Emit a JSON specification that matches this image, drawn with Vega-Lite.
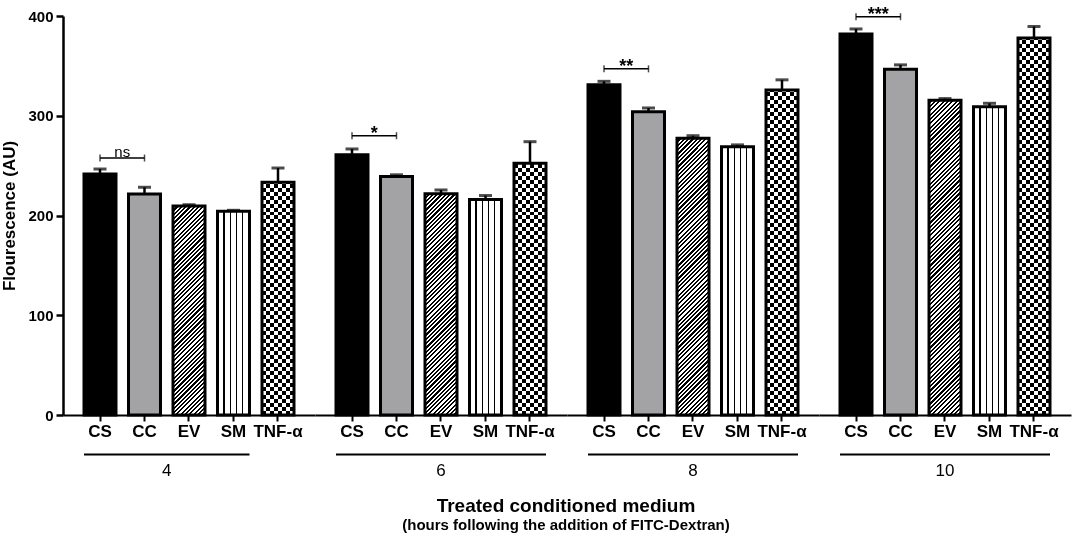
{
  "$schema": "https://vega.github.io/schema/vega-lite/v6.json",
  "padding": {"left": 0, "top": 5, "right": 2, "bottom": 2},
  "bounds": "flush",
  "spacing": 0,
  "config": {
    "font": "Liberation Sans",
    "view": {"stroke": null},
    "title": {"color": "#000", "subtitleColor": "#000"}
  },
  "title": {
    "text": "Treated conditioned medium",
    "subtitle": "(hours following the addition of FITC-Dextran)",
    "orient": "bottom",
    "anchor": "middle",
    "frame": "bounds",
    "dx": 30,
    "fontSize": 19,
    "fontWeight": "bold",
    "subtitleFontSize": 15,
    "subtitleFontWeight": "bold",
    "subtitlePadding": 2,
    "offset": 18
  },
  "data": {
    "values": [
      {"kind": "bar", "g": "4", "cat": "CS", "mean": 241.6, "hi": 246.6},
      {"kind": "bar", "g": "4", "cat": "CC", "mean": 221.6, "hi": 228.3},
      {"kind": "bar", "g": "4", "cat": "EV", "mean": 209.5, "hi": 210.8},
      {"kind": "bar", "g": "4", "cat": "SM", "mean": 204.2, "hi": 205.2},
      {"kind": "bar", "g": "4", "cat": "TNF-α", "mean": 233.3, "hi": 247.6},
      {"kind": "bar", "g": "6", "cat": "CS", "mean": 261, "hi": 266.7},
      {"kind": "bar", "g": "6", "cat": "CC", "mean": 239, "hi": 240.8},
      {"kind": "bar", "g": "6", "cat": "EV", "mean": 221.8, "hi": 225.6},
      {"kind": "bar", "g": "6", "cat": "SM", "mean": 216, "hi": 220},
      {"kind": "bar", "g": "6", "cat": "TNF-α", "mean": 252.3, "hi": 274},
      {"kind": "bar", "g": "8", "cat": "CS", "mean": 331, "hi": 334.5},
      {"kind": "bar", "g": "8", "cat": "CC", "mean": 304, "hi": 307.8},
      {"kind": "bar", "g": "8", "cat": "EV", "mean": 277.4, "hi": 280},
      {"kind": "bar", "g": "8", "cat": "SM", "mean": 269, "hi": 270.8},
      {"kind": "bar", "g": "8", "cat": "TNF-α", "mean": 325.8, "hi": 336},
      {"kind": "bar", "g": "10", "cat": "CS", "mean": 382, "hi": 387},
      {"kind": "bar", "g": "10", "cat": "CC", "mean": 346.6, "hi": 351},
      {"kind": "bar", "g": "10", "cat": "EV", "mean": 315.5, "hi": 317.2},
      {"kind": "bar", "g": "10", "cat": "SM", "mean": 309, "hi": 312.5},
      {"kind": "bar", "g": "10", "cat": "TNF-α", "mean": 378, "hi": 389.5},
      {"kind": "sig", "g": "4", "y": 257.6, "label": "ns", "a": "CS", "b": "CC"},
      {"kind": "sig", "g": "6", "y": 280, "label": "*", "a": "CS", "b": "CC"},
      {"kind": "sig", "g": "8", "y": 347, "label": "**", "a": "CS", "b": "CC"},
      {"kind": "sig", "g": "10", "y": 399.3, "label": "***", "a": "CS", "b": "CC"},
      {"kind": "grp", "g": "4", "from": "CS", "to": "SM"},
      {"kind": "grp", "g": "6", "from": "CS", "to": "TNF-α"},
      {"kind": "grp", "g": "8", "from": "CS", "to": "TNF-α"},
      {"kind": "grp", "g": "10", "from": "CS", "to": "TNF-α"}
    ]
  },
  "facet": {
    "column": {
      "field": "g",
      "type": "ordinal",
      "sort": ["4", "6", "8", "10"],
      "header": {"title": null, "labels": false}
    }
  },
  "spec": {
    "width": 252,
    "height": 399,
    "layer": [
      {
        "transform": [{"filter": "datum.kind == 'bar' && datum.cat == 'EV'"}],
        "mark": {
          "type": "bar",
          "fill": {
            "gradient": "linear", "x1": 0, "y1": 0, "x2": 0.0861, "y2": 1.0733,
            "stops": [
              {"offset":0,"color":"#000"},{"offset":0.005,"color":"#000"},{"offset":0.005,"color":"#fff"},{"offset":0.01,"color":"#fff"},
              {"offset":0.01,"color":"#000"},{"offset":0.015,"color":"#000"},{"offset":0.015,"color":"#fff"},{"offset":0.02,"color":"#fff"},
              {"offset":0.02,"color":"#000"},{"offset":0.025,"color":"#000"},{"offset":0.025,"color":"#fff"},{"offset":0.03,"color":"#fff"},
              {"offset":0.03,"color":"#000"},{"offset":0.035,"color":"#000"},{"offset":0.035,"color":"#fff"},{"offset":0.04,"color":"#fff"},
              {"offset":0.04,"color":"#000"},{"offset":0.045,"color":"#000"},{"offset":0.045,"color":"#fff"},{"offset":0.05,"color":"#fff"},
              {"offset":0.05,"color":"#000"},{"offset":0.055,"color":"#000"},{"offset":0.055,"color":"#fff"},{"offset":0.06,"color":"#fff"},
              {"offset":0.06,"color":"#000"},{"offset":0.065,"color":"#000"},{"offset":0.065,"color":"#fff"},{"offset":0.07,"color":"#fff"},
              {"offset":0.07,"color":"#000"},{"offset":0.075,"color":"#000"},{"offset":0.075,"color":"#fff"},{"offset":0.08,"color":"#fff"},
              {"offset":0.08,"color":"#000"},{"offset":0.085,"color":"#000"},{"offset":0.085,"color":"#fff"},{"offset":0.09,"color":"#fff"},
              {"offset":0.09,"color":"#000"},{"offset":0.095,"color":"#000"},{"offset":0.095,"color":"#fff"},{"offset":0.1,"color":"#fff"},
              {"offset":0.1,"color":"#000"},{"offset":0.105,"color":"#000"},{"offset":0.105,"color":"#fff"},{"offset":0.11,"color":"#fff"},
              {"offset":0.11,"color":"#000"},{"offset":0.115,"color":"#000"},{"offset":0.115,"color":"#fff"},{"offset":0.12,"color":"#fff"},
              {"offset":0.12,"color":"#000"},{"offset":0.125,"color":"#000"},{"offset":0.125,"color":"#fff"},{"offset":0.13,"color":"#fff"},
              {"offset":0.13,"color":"#000"},{"offset":0.135,"color":"#000"},{"offset":0.135,"color":"#fff"},{"offset":0.14,"color":"#fff"},
              {"offset":0.14,"color":"#000"},{"offset":0.145,"color":"#000"},{"offset":0.145,"color":"#fff"},{"offset":0.15,"color":"#fff"},
              {"offset":0.15,"color":"#000"},{"offset":0.155,"color":"#000"},{"offset":0.155,"color":"#fff"},{"offset":0.16,"color":"#fff"},
              {"offset":0.16,"color":"#000"},{"offset":0.165,"color":"#000"},{"offset":0.165,"color":"#fff"},{"offset":0.17,"color":"#fff"},
              {"offset":0.17,"color":"#000"},{"offset":0.175,"color":"#000"},{"offset":0.175,"color":"#fff"},{"offset":0.18,"color":"#fff"},
              {"offset":0.18,"color":"#000"},{"offset":0.185,"color":"#000"},{"offset":0.185,"color":"#fff"},{"offset":0.19,"color":"#fff"},
              {"offset":0.19,"color":"#000"},{"offset":0.195,"color":"#000"},{"offset":0.195,"color":"#fff"},{"offset":0.2,"color":"#fff"},
              {"offset":0.2,"color":"#000"},{"offset":0.205,"color":"#000"},{"offset":0.205,"color":"#fff"},{"offset":0.21,"color":"#fff"},
              {"offset":0.21,"color":"#000"},{"offset":0.215,"color":"#000"},{"offset":0.215,"color":"#fff"},{"offset":0.22,"color":"#fff"},
              {"offset":0.22,"color":"#000"},{"offset":0.225,"color":"#000"},{"offset":0.225,"color":"#fff"},{"offset":0.23,"color":"#fff"},
              {"offset":0.23,"color":"#000"},{"offset":0.235,"color":"#000"},{"offset":0.235,"color":"#fff"},{"offset":0.24,"color":"#fff"},
              {"offset":0.24,"color":"#000"},{"offset":0.245,"color":"#000"},{"offset":0.245,"color":"#fff"},{"offset":0.25,"color":"#fff"},
              {"offset":0.25,"color":"#000"},{"offset":0.255,"color":"#000"},{"offset":0.255,"color":"#fff"},{"offset":0.26,"color":"#fff"},
              {"offset":0.26,"color":"#000"},{"offset":0.265,"color":"#000"},{"offset":0.265,"color":"#fff"},{"offset":0.27,"color":"#fff"},
              {"offset":0.27,"color":"#000"},{"offset":0.275,"color":"#000"},{"offset":0.275,"color":"#fff"},{"offset":0.28,"color":"#fff"},
              {"offset":0.28,"color":"#000"},{"offset":0.285,"color":"#000"},{"offset":0.285,"color":"#fff"},{"offset":0.29,"color":"#fff"},
              {"offset":0.29,"color":"#000"},{"offset":0.295,"color":"#000"},{"offset":0.295,"color":"#fff"},{"offset":0.3,"color":"#fff"},
              {"offset":0.3,"color":"#000"},{"offset":0.305,"color":"#000"},{"offset":0.305,"color":"#fff"},{"offset":0.31,"color":"#fff"},
              {"offset":0.31,"color":"#000"},{"offset":0.315,"color":"#000"},{"offset":0.315,"color":"#fff"},{"offset":0.32,"color":"#fff"},
              {"offset":0.32,"color":"#000"},{"offset":0.325,"color":"#000"},{"offset":0.325,"color":"#fff"},{"offset":0.33,"color":"#fff"},
              {"offset":0.33,"color":"#000"},{"offset":0.335,"color":"#000"},{"offset":0.335,"color":"#fff"},{"offset":0.34,"color":"#fff"},
              {"offset":0.34,"color":"#000"},{"offset":0.345,"color":"#000"},{"offset":0.345,"color":"#fff"},{"offset":0.35,"color":"#fff"},
              {"offset":0.35,"color":"#000"},{"offset":0.355,"color":"#000"},{"offset":0.355,"color":"#fff"},{"offset":0.36,"color":"#fff"},
              {"offset":0.36,"color":"#000"},{"offset":0.365,"color":"#000"},{"offset":0.365,"color":"#fff"},{"offset":0.37,"color":"#fff"},
              {"offset":0.37,"color":"#000"},{"offset":0.375,"color":"#000"},{"offset":0.375,"color":"#fff"},{"offset":0.38,"color":"#fff"},
              {"offset":0.38,"color":"#000"},{"offset":0.385,"color":"#000"},{"offset":0.385,"color":"#fff"},{"offset":0.39,"color":"#fff"},
              {"offset":0.39,"color":"#000"},{"offset":0.395,"color":"#000"},{"offset":0.395,"color":"#fff"},{"offset":0.4,"color":"#fff"},
              {"offset":0.4,"color":"#000"},{"offset":0.405,"color":"#000"},{"offset":0.405,"color":"#fff"},{"offset":0.41,"color":"#fff"},
              {"offset":0.41,"color":"#000"},{"offset":0.415,"color":"#000"},{"offset":0.415,"color":"#fff"},{"offset":0.42,"color":"#fff"},
              {"offset":0.42,"color":"#000"},{"offset":0.425,"color":"#000"},{"offset":0.425,"color":"#fff"},{"offset":0.43,"color":"#fff"},
              {"offset":0.43,"color":"#000"},{"offset":0.435,"color":"#000"},{"offset":0.435,"color":"#fff"},{"offset":0.44,"color":"#fff"},
              {"offset":0.44,"color":"#000"},{"offset":0.445,"color":"#000"},{"offset":0.445,"color":"#fff"},{"offset":0.45,"color":"#fff"},
              {"offset":0.45,"color":"#000"},{"offset":0.455,"color":"#000"},{"offset":0.455,"color":"#fff"},{"offset":0.46,"color":"#fff"},
              {"offset":0.46,"color":"#000"},{"offset":0.465,"color":"#000"},{"offset":0.465,"color":"#fff"},{"offset":0.47,"color":"#fff"},
              {"offset":0.47,"color":"#000"},{"offset":0.475,"color":"#000"},{"offset":0.475,"color":"#fff"},{"offset":0.48,"color":"#fff"},
              {"offset":0.48,"color":"#000"},{"offset":0.485,"color":"#000"},{"offset":0.485,"color":"#fff"},{"offset":0.49,"color":"#fff"},
              {"offset":0.49,"color":"#000"},{"offset":0.495,"color":"#000"},{"offset":0.495,"color":"#fff"},{"offset":0.5,"color":"#fff"},
              {"offset":0.5,"color":"#000"},{"offset":0.505,"color":"#000"},{"offset":0.505,"color":"#fff"},{"offset":0.51,"color":"#fff"},
              {"offset":0.51,"color":"#000"},{"offset":0.515,"color":"#000"},{"offset":0.515,"color":"#fff"},{"offset":0.52,"color":"#fff"},
              {"offset":0.52,"color":"#000"},{"offset":0.525,"color":"#000"},{"offset":0.525,"color":"#fff"},{"offset":0.53,"color":"#fff"},
              {"offset":0.53,"color":"#000"},{"offset":0.535,"color":"#000"},{"offset":0.535,"color":"#fff"},{"offset":0.54,"color":"#fff"},
              {"offset":0.54,"color":"#000"},{"offset":0.545,"color":"#000"},{"offset":0.545,"color":"#fff"},{"offset":0.55,"color":"#fff"},
              {"offset":0.55,"color":"#000"},{"offset":0.555,"color":"#000"},{"offset":0.555,"color":"#fff"},{"offset":0.56,"color":"#fff"},
              {"offset":0.56,"color":"#000"},{"offset":0.565,"color":"#000"},{"offset":0.565,"color":"#fff"},{"offset":0.57,"color":"#fff"},
              {"offset":0.57,"color":"#000"},{"offset":0.575,"color":"#000"},{"offset":0.575,"color":"#fff"},{"offset":0.58,"color":"#fff"},
              {"offset":0.58,"color":"#000"},{"offset":0.585,"color":"#000"},{"offset":0.585,"color":"#fff"},{"offset":0.59,"color":"#fff"},
              {"offset":0.59,"color":"#000"},{"offset":0.595,"color":"#000"},{"offset":0.595,"color":"#fff"},{"offset":0.6,"color":"#fff"},
              {"offset":0.6,"color":"#000"},{"offset":0.605,"color":"#000"},{"offset":0.605,"color":"#fff"},{"offset":0.61,"color":"#fff"},
              {"offset":0.61,"color":"#000"},{"offset":0.615,"color":"#000"},{"offset":0.615,"color":"#fff"},{"offset":0.62,"color":"#fff"},
              {"offset":0.62,"color":"#000"},{"offset":0.625,"color":"#000"},{"offset":0.625,"color":"#fff"},{"offset":0.63,"color":"#fff"},
              {"offset":0.63,"color":"#000"},{"offset":0.635,"color":"#000"},{"offset":0.635,"color":"#fff"},{"offset":0.64,"color":"#fff"},
              {"offset":0.64,"color":"#000"},{"offset":0.645,"color":"#000"},{"offset":0.645,"color":"#fff"},{"offset":0.65,"color":"#fff"},
              {"offset":0.65,"color":"#000"},{"offset":0.655,"color":"#000"},{"offset":0.655,"color":"#fff"},{"offset":0.66,"color":"#fff"},
              {"offset":0.66,"color":"#000"},{"offset":0.665,"color":"#000"},{"offset":0.665,"color":"#fff"},{"offset":0.67,"color":"#fff"},
              {"offset":0.67,"color":"#000"},{"offset":0.675,"color":"#000"},{"offset":0.675,"color":"#fff"},{"offset":0.68,"color":"#fff"},
              {"offset":0.68,"color":"#000"},{"offset":0.685,"color":"#000"},{"offset":0.685,"color":"#fff"},{"offset":0.69,"color":"#fff"},
              {"offset":0.69,"color":"#000"},{"offset":0.695,"color":"#000"},{"offset":0.695,"color":"#fff"},{"offset":0.7,"color":"#fff"},
              {"offset":0.7,"color":"#000"},{"offset":0.705,"color":"#000"},{"offset":0.705,"color":"#fff"},{"offset":0.71,"color":"#fff"},
              {"offset":0.71,"color":"#000"},{"offset":0.715,"color":"#000"},{"offset":0.715,"color":"#fff"},{"offset":0.72,"color":"#fff"},
              {"offset":0.72,"color":"#000"},{"offset":0.725,"color":"#000"},{"offset":0.725,"color":"#fff"},{"offset":0.73,"color":"#fff"},
              {"offset":0.73,"color":"#000"},{"offset":0.735,"color":"#000"},{"offset":0.735,"color":"#fff"},{"offset":0.74,"color":"#fff"},
              {"offset":0.74,"color":"#000"},{"offset":0.745,"color":"#000"},{"offset":0.745,"color":"#fff"},{"offset":0.75,"color":"#fff"},
              {"offset":0.75,"color":"#000"},{"offset":0.755,"color":"#000"},{"offset":0.755,"color":"#fff"},{"offset":0.76,"color":"#fff"},
              {"offset":0.76,"color":"#000"},{"offset":0.765,"color":"#000"},{"offset":0.765,"color":"#fff"},{"offset":0.77,"color":"#fff"},
              {"offset":0.77,"color":"#000"},{"offset":0.775,"color":"#000"},{"offset":0.775,"color":"#fff"},{"offset":0.78,"color":"#fff"},
              {"offset":0.78,"color":"#000"},{"offset":0.785,"color":"#000"},{"offset":0.785,"color":"#fff"},{"offset":0.79,"color":"#fff"},
              {"offset":0.79,"color":"#000"},{"offset":0.795,"color":"#000"},{"offset":0.795,"color":"#fff"},{"offset":0.8,"color":"#fff"},
              {"offset":0.8,"color":"#000"},{"offset":0.805,"color":"#000"},{"offset":0.805,"color":"#fff"},{"offset":0.81,"color":"#fff"},
              {"offset":0.81,"color":"#000"},{"offset":0.815,"color":"#000"},{"offset":0.815,"color":"#fff"},{"offset":0.82,"color":"#fff"},
              {"offset":0.82,"color":"#000"},{"offset":0.825,"color":"#000"},{"offset":0.825,"color":"#fff"},{"offset":0.83,"color":"#fff"},
              {"offset":0.83,"color":"#000"},{"offset":0.835,"color":"#000"},{"offset":0.835,"color":"#fff"},{"offset":0.84,"color":"#fff"},
              {"offset":0.84,"color":"#000"},{"offset":0.845,"color":"#000"},{"offset":0.845,"color":"#fff"},{"offset":0.85,"color":"#fff"},
              {"offset":0.85,"color":"#000"},{"offset":0.855,"color":"#000"},{"offset":0.855,"color":"#fff"},{"offset":0.86,"color":"#fff"},
              {"offset":0.86,"color":"#000"},{"offset":0.865,"color":"#000"},{"offset":0.865,"color":"#fff"},{"offset":0.87,"color":"#fff"},
              {"offset":0.87,"color":"#000"},{"offset":0.875,"color":"#000"},{"offset":0.875,"color":"#fff"},{"offset":0.88,"color":"#fff"},
              {"offset":0.88,"color":"#000"},{"offset":0.885,"color":"#000"},{"offset":0.885,"color":"#fff"},{"offset":0.89,"color":"#fff"},
              {"offset":0.89,"color":"#000"},{"offset":0.895,"color":"#000"},{"offset":0.895,"color":"#fff"},{"offset":0.9,"color":"#fff"},
              {"offset":0.9,"color":"#000"},{"offset":0.905,"color":"#000"},{"offset":0.905,"color":"#fff"},{"offset":0.91,"color":"#fff"},
              {"offset":0.91,"color":"#000"},{"offset":0.915,"color":"#000"},{"offset":0.915,"color":"#fff"},{"offset":0.92,"color":"#fff"},
              {"offset":0.92,"color":"#000"},{"offset":0.925,"color":"#000"},{"offset":0.925,"color":"#fff"},{"offset":0.93,"color":"#fff"},
              {"offset":0.93,"color":"#000"},{"offset":0.935,"color":"#000"},{"offset":0.935,"color":"#fff"},{"offset":0.94,"color":"#fff"},
              {"offset":0.94,"color":"#000"},{"offset":0.945,"color":"#000"},{"offset":0.945,"color":"#fff"},{"offset":0.95,"color":"#fff"},
              {"offset":0.95,"color":"#000"},{"offset":0.955,"color":"#000"},{"offset":0.955,"color":"#fff"},{"offset":0.96,"color":"#fff"},
              {"offset":0.96,"color":"#000"},{"offset":0.965,"color":"#000"},{"offset":0.965,"color":"#fff"},{"offset":0.97,"color":"#fff"},
              {"offset":0.97,"color":"#000"},{"offset":0.975,"color":"#000"},{"offset":0.975,"color":"#fff"},{"offset":0.98,"color":"#fff"},
              {"offset":0.98,"color":"#000"},{"offset":0.985,"color":"#000"},{"offset":0.985,"color":"#fff"},{"offset":0.99,"color":"#fff"},
              {"offset":0.99,"color":"#000"},{"offset":0.995,"color":"#000"},{"offset":0.995,"color":"#fff"},{"offset":1,"color":"#fff"}
            ]
          }
        },
        "encoding": {
          "x": {
            "field": "cat",
            "type": "nominal",
            "scale": {"domain": ["CS", "CC", "EV", "SM", "TNF-α"], "paddingInner": 0.281, "paddingOuter": 0.472},
            "axis": {
              "title": null,
              "labelAngle": 0,
              "labelFontSize": 17,
              "labelFontWeight": "bold",
              "labelColor": "#000",
              "labelPadding": 2,
              "tickSize": 6,
              "tickWidth": 2,
              "tickColor": "#000",
              "domainWidth": 2,
              "domainColor": "#000"
            }
          },
          "y": {
            "datum": 0,
            "type": "quantitative",
            "scale": {"domain": [0, 400], "nice": false},
            "axis": {
              "title": "Flourescence (AU)",
              "titleFontSize": 17,
              "titleFontWeight": "bold",
              "titleColor": "#000",
              "titlePadding": 9,
              "values": [0, 100, 200, 300, 400],
              "labelFontSize": 15,
              "labelFontWeight": "bold",
              "labelColor": "#000",
              "labelPadding": 3,
              "tickSize": 7,
              "tickWidth": 2.5,
              "tickColor": "#000",
              "domainWidth": 2.5,
              "domainColor": "#000",
              "grid": false
            }
          },
          "y2": {"datum": 400}
        }
      },
      {
        "transform": [{"filter": "datum.kind == 'bar' && datum.cat == 'TNF-α'"}],
        "mark": {
          "type": "bar",
          "fill": {
            "gradient": "linear", "x1": 0, "y1": 0, "x2": 1, "y2": 0,
            "stops": [
              {"offset":0,"color":"#000"},{"offset":0.125,"color":"#000"},{"offset":0.125,"color":"#fff"},{"offset":0.25,"color":"#fff"},
              {"offset":0.25,"color":"#000"},{"offset":0.375,"color":"#000"},{"offset":0.375,"color":"#fff"},{"offset":0.5,"color":"#fff"},
              {"offset":0.5,"color":"#000"},{"offset":0.625,"color":"#000"},{"offset":0.625,"color":"#fff"},{"offset":0.75,"color":"#fff"},
              {"offset":0.75,"color":"#000"},{"offset":0.875,"color":"#000"},{"offset":0.875,"color":"#fff"},{"offset":1,"color":"#fff"}
            ]
          }
        },
        "encoding": {
          "x": {"field": "cat", "type": "nominal"},
          "y": {"datum": 0, "type": "quantitative"},
          "y2": {"datum": 400}
        }
      },
      {
        "transform": [{"filter": "datum.kind == 'bar' && datum.cat == 'TNF-α'"}],
        "mark": {
          "type": "bar",
          "blend": "difference",
          "fill": {
            "gradient": "linear", "x1": 0, "y1": 0, "x2": 0, "y2": 1,
            "stops": [
              {"offset":0,"color":"#fff"},{"offset":0.01,"color":"#fff"},{"offset":0.01,"color":"#000"},{"offset":0.02,"color":"#000"},
              {"offset":0.02,"color":"#fff"},{"offset":0.03,"color":"#fff"},{"offset":0.03,"color":"#000"},{"offset":0.04,"color":"#000"},
              {"offset":0.04,"color":"#fff"},{"offset":0.05,"color":"#fff"},{"offset":0.05,"color":"#000"},{"offset":0.06,"color":"#000"},
              {"offset":0.06,"color":"#fff"},{"offset":0.07,"color":"#fff"},{"offset":0.07,"color":"#000"},{"offset":0.08,"color":"#000"},
              {"offset":0.08,"color":"#fff"},{"offset":0.09,"color":"#fff"},{"offset":0.09,"color":"#000"},{"offset":0.1,"color":"#000"},
              {"offset":0.1,"color":"#fff"},{"offset":0.11,"color":"#fff"},{"offset":0.11,"color":"#000"},{"offset":0.12,"color":"#000"},
              {"offset":0.12,"color":"#fff"},{"offset":0.13,"color":"#fff"},{"offset":0.13,"color":"#000"},{"offset":0.14,"color":"#000"},
              {"offset":0.14,"color":"#fff"},{"offset":0.15,"color":"#fff"},{"offset":0.15,"color":"#000"},{"offset":0.16,"color":"#000"},
              {"offset":0.16,"color":"#fff"},{"offset":0.17,"color":"#fff"},{"offset":0.17,"color":"#000"},{"offset":0.18,"color":"#000"},
              {"offset":0.18,"color":"#fff"},{"offset":0.19,"color":"#fff"},{"offset":0.19,"color":"#000"},{"offset":0.2,"color":"#000"},
              {"offset":0.2,"color":"#fff"},{"offset":0.21,"color":"#fff"},{"offset":0.21,"color":"#000"},{"offset":0.22,"color":"#000"},
              {"offset":0.22,"color":"#fff"},{"offset":0.23,"color":"#fff"},{"offset":0.23,"color":"#000"},{"offset":0.24,"color":"#000"},
              {"offset":0.24,"color":"#fff"},{"offset":0.25,"color":"#fff"},{"offset":0.25,"color":"#000"},{"offset":0.26,"color":"#000"},
              {"offset":0.26,"color":"#fff"},{"offset":0.27,"color":"#fff"},{"offset":0.27,"color":"#000"},{"offset":0.28,"color":"#000"},
              {"offset":0.28,"color":"#fff"},{"offset":0.29,"color":"#fff"},{"offset":0.29,"color":"#000"},{"offset":0.3,"color":"#000"},
              {"offset":0.3,"color":"#fff"},{"offset":0.31,"color":"#fff"},{"offset":0.31,"color":"#000"},{"offset":0.32,"color":"#000"},
              {"offset":0.32,"color":"#fff"},{"offset":0.33,"color":"#fff"},{"offset":0.33,"color":"#000"},{"offset":0.34,"color":"#000"},
              {"offset":0.34,"color":"#fff"},{"offset":0.35,"color":"#fff"},{"offset":0.35,"color":"#000"},{"offset":0.36,"color":"#000"},
              {"offset":0.36,"color":"#fff"},{"offset":0.37,"color":"#fff"},{"offset":0.37,"color":"#000"},{"offset":0.38,"color":"#000"},
              {"offset":0.38,"color":"#fff"},{"offset":0.39,"color":"#fff"},{"offset":0.39,"color":"#000"},{"offset":0.4,"color":"#000"},
              {"offset":0.4,"color":"#fff"},{"offset":0.41,"color":"#fff"},{"offset":0.41,"color":"#000"},{"offset":0.42,"color":"#000"},
              {"offset":0.42,"color":"#fff"},{"offset":0.43,"color":"#fff"},{"offset":0.43,"color":"#000"},{"offset":0.44,"color":"#000"},
              {"offset":0.44,"color":"#fff"},{"offset":0.45,"color":"#fff"},{"offset":0.45,"color":"#000"},{"offset":0.46,"color":"#000"},
              {"offset":0.46,"color":"#fff"},{"offset":0.47,"color":"#fff"},{"offset":0.47,"color":"#000"},{"offset":0.48,"color":"#000"},
              {"offset":0.48,"color":"#fff"},{"offset":0.49,"color":"#fff"},{"offset":0.49,"color":"#000"},{"offset":0.5,"color":"#000"},
              {"offset":0.5,"color":"#fff"},{"offset":0.51,"color":"#fff"},{"offset":0.51,"color":"#000"},{"offset":0.52,"color":"#000"},
              {"offset":0.52,"color":"#fff"},{"offset":0.53,"color":"#fff"},{"offset":0.53,"color":"#000"},{"offset":0.54,"color":"#000"},
              {"offset":0.54,"color":"#fff"},{"offset":0.55,"color":"#fff"},{"offset":0.55,"color":"#000"},{"offset":0.56,"color":"#000"},
              {"offset":0.56,"color":"#fff"},{"offset":0.57,"color":"#fff"},{"offset":0.57,"color":"#000"},{"offset":0.58,"color":"#000"},
              {"offset":0.58,"color":"#fff"},{"offset":0.59,"color":"#fff"},{"offset":0.59,"color":"#000"},{"offset":0.6,"color":"#000"},
              {"offset":0.6,"color":"#fff"},{"offset":0.61,"color":"#fff"},{"offset":0.61,"color":"#000"},{"offset":0.62,"color":"#000"},
              {"offset":0.62,"color":"#fff"},{"offset":0.63,"color":"#fff"},{"offset":0.63,"color":"#000"},{"offset":0.64,"color":"#000"},
              {"offset":0.64,"color":"#fff"},{"offset":0.65,"color":"#fff"},{"offset":0.65,"color":"#000"},{"offset":0.66,"color":"#000"},
              {"offset":0.66,"color":"#fff"},{"offset":0.67,"color":"#fff"},{"offset":0.67,"color":"#000"},{"offset":0.68,"color":"#000"},
              {"offset":0.68,"color":"#fff"},{"offset":0.69,"color":"#fff"},{"offset":0.69,"color":"#000"},{"offset":0.7,"color":"#000"},
              {"offset":0.7,"color":"#fff"},{"offset":0.71,"color":"#fff"},{"offset":0.71,"color":"#000"},{"offset":0.72,"color":"#000"},
              {"offset":0.72,"color":"#fff"},{"offset":0.73,"color":"#fff"},{"offset":0.73,"color":"#000"},{"offset":0.74,"color":"#000"},
              {"offset":0.74,"color":"#fff"},{"offset":0.75,"color":"#fff"},{"offset":0.75,"color":"#000"},{"offset":0.76,"color":"#000"},
              {"offset":0.76,"color":"#fff"},{"offset":0.77,"color":"#fff"},{"offset":0.77,"color":"#000"},{"offset":0.78,"color":"#000"},
              {"offset":0.78,"color":"#fff"},{"offset":0.79,"color":"#fff"},{"offset":0.79,"color":"#000"},{"offset":0.8,"color":"#000"},
              {"offset":0.8,"color":"#fff"},{"offset":0.81,"color":"#fff"},{"offset":0.81,"color":"#000"},{"offset":0.82,"color":"#000"},
              {"offset":0.82,"color":"#fff"},{"offset":0.83,"color":"#fff"},{"offset":0.83,"color":"#000"},{"offset":0.84,"color":"#000"},
              {"offset":0.84,"color":"#fff"},{"offset":0.85,"color":"#fff"},{"offset":0.85,"color":"#000"},{"offset":0.86,"color":"#000"},
              {"offset":0.86,"color":"#fff"},{"offset":0.87,"color":"#fff"},{"offset":0.87,"color":"#000"},{"offset":0.88,"color":"#000"},
              {"offset":0.88,"color":"#fff"},{"offset":0.89,"color":"#fff"},{"offset":0.89,"color":"#000"},{"offset":0.9,"color":"#000"},
              {"offset":0.9,"color":"#fff"},{"offset":0.91,"color":"#fff"},{"offset":0.91,"color":"#000"},{"offset":0.92,"color":"#000"},
              {"offset":0.92,"color":"#fff"},{"offset":0.93,"color":"#fff"},{"offset":0.93,"color":"#000"},{"offset":0.94,"color":"#000"},
              {"offset":0.94,"color":"#fff"},{"offset":0.95,"color":"#fff"},{"offset":0.95,"color":"#000"},{"offset":0.96,"color":"#000"},
              {"offset":0.96,"color":"#fff"},{"offset":0.97,"color":"#fff"},{"offset":0.97,"color":"#000"},{"offset":0.98,"color":"#000"},
              {"offset":0.98,"color":"#fff"},{"offset":0.99,"color":"#fff"},{"offset":0.99,"color":"#000"},{"offset":1,"color":"#000"}
            ]
          }
        },
        "encoding": {
          "x": {"field": "cat", "type": "nominal"},
          "y": {"datum": 0, "type": "quantitative"},
          "y2": {"datum": 400}
        }
      },
      {
        "transform": [{"filter": "datum.kind == 'bar' && (datum.cat == 'EV' || datum.cat == 'TNF-α')"}],
        "mark": {"type": "bar", "fill": "#fff", "width": {"band": 1.12}},
        "encoding": {
          "x": {"field": "cat", "type": "nominal"},
          "y": {"field": "mean", "type": "quantitative"},
          "y2": {"datum": 403}
        }
      },
      {
        "transform": [{"filter": "datum.kind == 'bar' && datum.cat == 'SM'"}],
        "mark": {
          "type": "bar",
          "fill": {
            "gradient": "linear", "x1": 0, "y1": 0, "x2": 1, "y2": 0,
            "stops": [
              {"offset":0,"color":"#fff"},{"offset":0.18,"color":"#fff"},{"offset":0.18,"color":"#000"},{"offset":0.235,"color":"#000"},
              {"offset":0.235,"color":"#fff"},{"offset":0.375,"color":"#fff"},{"offset":0.375,"color":"#000"},{"offset":0.43,"color":"#000"},
              {"offset":0.43,"color":"#fff"},{"offset":0.565,"color":"#fff"},{"offset":0.565,"color":"#000"},{"offset":0.62,"color":"#000"},
              {"offset":0.62,"color":"#fff"},{"offset":0.755,"color":"#fff"},{"offset":0.755,"color":"#000"},{"offset":0.81,"color":"#000"},
              {"offset":0.81,"color":"#fff"},{"offset":1,"color":"#fff"}
            ]
          }
        },
        "encoding": {
          "x": {"field": "cat", "type": "nominal"},
          "y": {"field": "mean", "type": "quantitative"}
        }
      },
      {
        "transform": [{"filter": "datum.kind == 'bar' && (datum.cat == 'CS' || datum.cat == 'CC')"}],
        "mark": {"type": "bar"},
        "encoding": {
          "x": {"field": "cat", "type": "nominal"},
          "y": {"field": "mean", "type": "quantitative"},
          "color": {
            "field": "cat",
            "type": "nominal",
            "scale": {"domain": ["CS", "CC"], "range": ["#000000", "#a3a3a6"]},
            "legend": null
          }
        }
      },
      {
        "transform": [{"filter": "datum.kind == 'bar'"}],
        "mark": {"type": "bar", "fill": "transparent", "stroke": "#000", "strokeWidth": 3},
        "encoding": {
          "x": {"field": "cat", "type": "nominal"},
          "y": {"field": "mean", "type": "quantitative"}
        }
      },
      {
        "transform": [{"filter": "datum.kind == 'bar'"}],
        "mark": {"type": "rule", "color": "#000", "strokeWidth": 2.5},
        "encoding": {
          "x": {"field": "cat", "type": "nominal"},
          "y": {"field": "mean", "type": "quantitative"},
          "y2": {"field": "hi"}
        }
      },
      {
        "transform": [{"filter": "datum.kind == 'bar'"}],
        "mark": {"type": "tick", "orient": "horizontal", "color": "#000", "size": 13, "thickness": 3},
        "encoding": {
          "x": {"field": "cat", "type": "nominal"},
          "y": {"field": "hi", "type": "quantitative"}
        }
      },
      {
        "transform": [{"filter": "datum.kind == 'sig'"}],
        "mark": {"type": "rule", "color": "#000", "strokeWidth": 1.5},
        "encoding": {
          "x": {"field": "a", "type": "nominal", "bandPosition": 0.5},
          "x2": {"field": "b", "bandPosition": 0.5},
          "y": {"field": "y", "type": "quantitative"}
        }
      },
      {
        "transform": [
          {"filter": "datum.kind == 'sig'"},
          {"fold": ["a", "b"], "as": ["end", "pos"]}
        ],
        "mark": {"type": "tick", "orient": "vertical", "color": "#000", "size": 7, "thickness": 1.5},
        "encoding": {
          "x": {"field": "pos", "type": "nominal"},
          "y": {"field": "y", "type": "quantitative"}
        }
      },
      {
        "transform": [{"filter": "datum.kind == 'sig' && datum.label == 'ns'"}],
        "mark": {"type": "text", "fontSize": 15, "color": "#000", "baseline": "alphabetic", "dy": -1},
        "encoding": {
          "x": {"field": "a", "type": "nominal", "bandPosition": 1.195},
          "y": {"field": "y", "type": "quantitative"},
          "text": {"field": "label"}
        }
      },
      {
        "transform": [{"filter": "datum.kind == 'sig' && datum.label != 'ns'"}],
        "mark": {"type": "text", "fontSize": 18, "fontWeight": "bold", "color": "#000", "baseline": "alphabetic", "dy": 3},
        "encoding": {
          "x": {"field": "a", "type": "nominal", "bandPosition": 1.195},
          "y": {"field": "y", "type": "quantitative"},
          "text": {"field": "label"}
        }
      },
      {
        "transform": [{"filter": "datum.kind == 'grp'"}],
        "mark": {"type": "rule", "color": "#000", "strokeWidth": 2},
        "encoding": {
          "x": {"field": "from", "type": "nominal", "bandPosition": 0},
          "x2": {"field": "to", "bandPosition": 1},
          "y": {"datum": -39.5, "type": "quantitative"}
        }
      },
      {
        "transform": [{"filter": "datum.kind == 'grp' && datum.g == '4'"}],
        "mark": {"type": "text", "fontSize": 17, "color": "#000", "baseline": "alphabetic", "dx": 44.5},
        "encoding": {
          "x": {"field": "from", "type": "nominal", "bandPosition": 1.195},
          "y": {"datum": -61, "type": "quantitative"},
          "text": {"field": "g"}
        }
      },
      {
        "transform": [{"filter": "datum.kind == 'grp' && datum.g != '4'"}],
        "mark": {"type": "text", "fontSize": 17, "color": "#000", "baseline": "alphabetic", "dx": 89},
        "encoding": {
          "x": {"field": "from", "type": "nominal", "bandPosition": 0.5},
          "y": {"datum": -61, "type": "quantitative"},
          "text": {"field": "g"}
        }
      }
    ]
  }
}
